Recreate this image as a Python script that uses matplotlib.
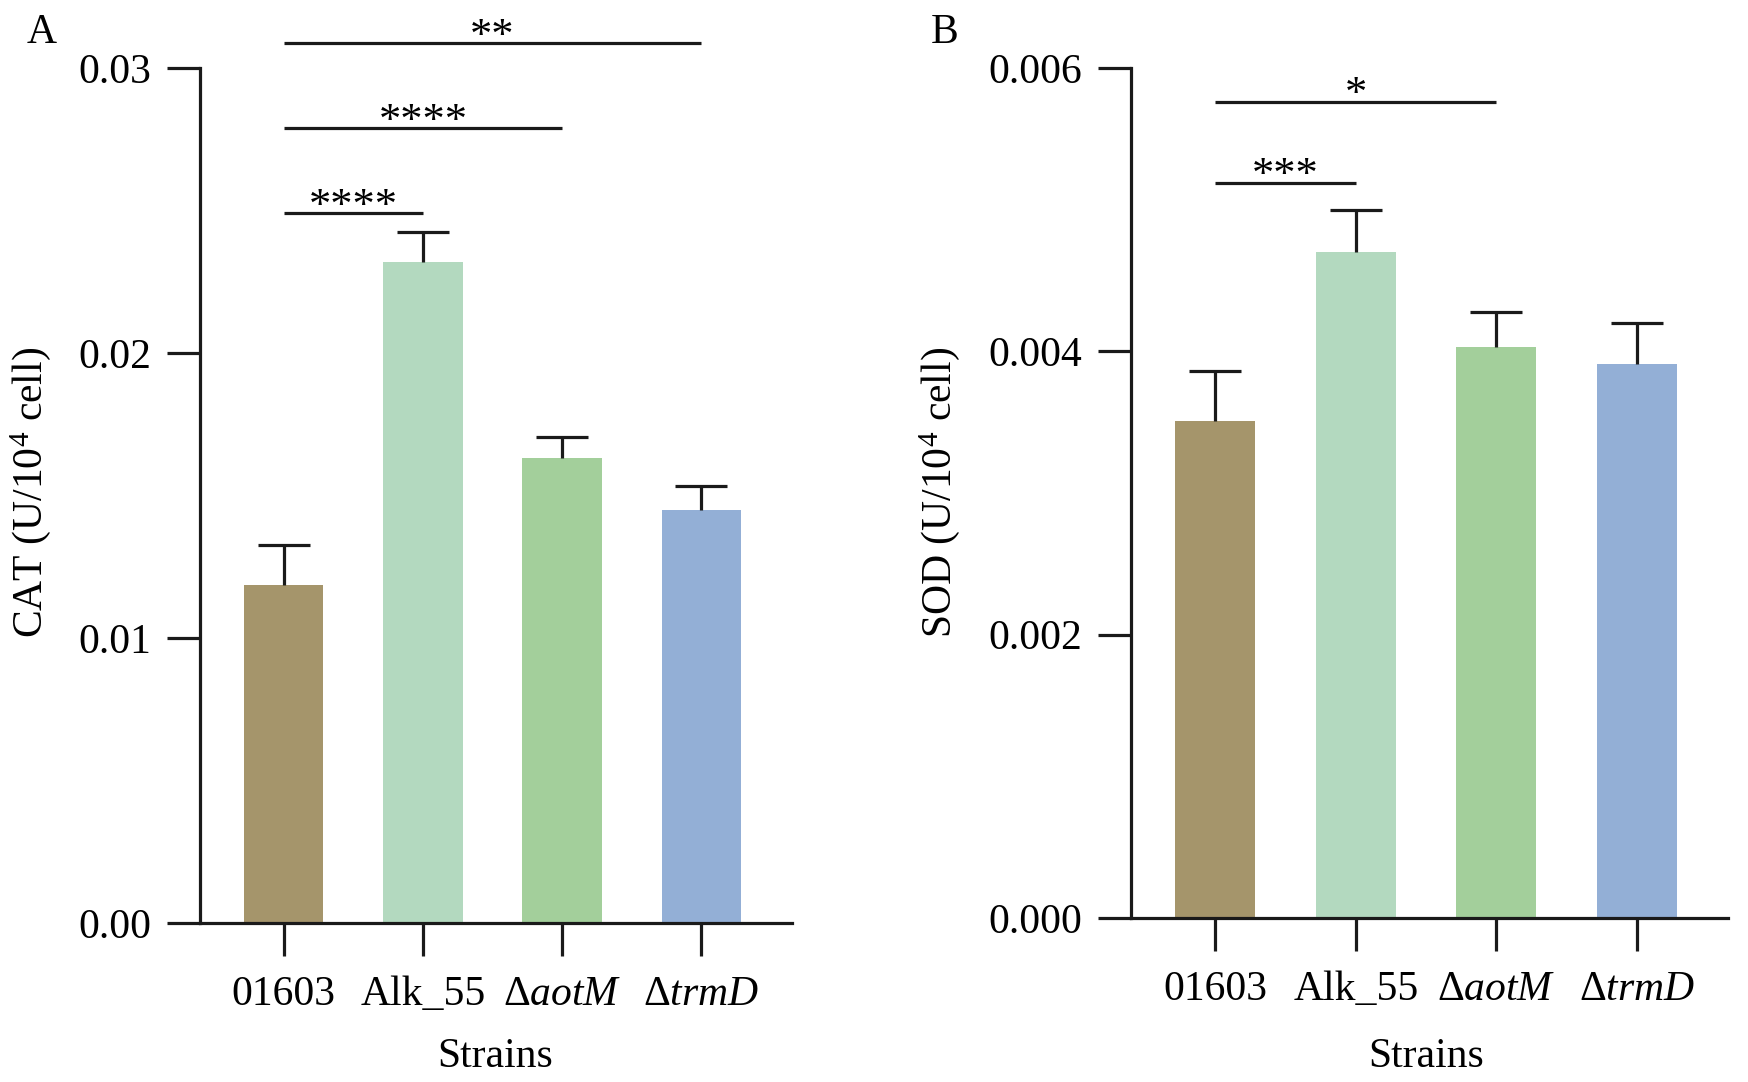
import matplotlib
matplotlib.use("Agg")
import matplotlib.pyplot as plt
import numpy as np

plt.rcParams['font.family'] = ['Liberation Serif', 'DejaVu Serif']
plt.rcParams['mathtext.fontset'] = 'custom'
plt.rcParams['mathtext.rm'] = 'Liberation Serif'
plt.rcParams['mathtext.it'] = 'Liberation Serif:italic'
plt.rcParams['mathtext.bf'] = 'Liberation Serif:bold'

# ---------------- data ----------------
strains = [r'01603', r'Alk_55', r'$\mathrm{\Delta}\mathit{aotM}$', r'$\mathrm{\Delta}\mathit{trmD}$']
bar_colors = ['#A5956B', '#B3D9BF', '#A3CF9B', '#93AFD6']

cat_values = [0.01185, 0.02318, 0.01633, 0.01450]
cat_errors = [0.00140, 0.00106, 0.00074, 0.00082]
cat_sig_pairs = [(0, 1), (0, 2), (0, 3)]
cat_sig_heights = [0.02490, 0.02788, 0.03086]
cat_sig_labels = ['****', '****', '**']
cat_ticks = [0.00, 0.01, 0.02, 0.03]
cat_ticklabels = ['0.00', '0.01', '0.02', '0.03']

sod_values = [0.003506, 0.004704, 0.004032, 0.003912]
sod_errors = [0.000352, 0.000292, 0.000244, 0.000288]
sod_sig_pairs = [(0, 1), (0, 2)]
sod_sig_heights = [0.005191, 0.005761]
sod_sig_labels = ['***', '*']
sod_ticks = [0.000, 0.002, 0.004, 0.006]
sod_ticklabels = ['0.000', '0.002', '0.004', '0.006']

# ---------------- figure ----------------
W, H = 1748, 1082
fig = plt.figure(figsize=(W / 100, H / 100), dpi=100)

FS = 30
LW = 2.3


def panel(rect, values, errors, pairs, heights, labels, ticks, ticklabels,
          ylabel, ylab_xy, xlab_xy, ymax):
    ax = fig.add_axes(rect)
    x = np.arange(len(values))
    ax.bar(x, values, width=0.57, color=bar_colors, edgecolor='none', zorder=2)
    _, caps, _ = ax.errorbar(x, values, yerr=[np.zeros(len(errors)), errors], fmt='none',
                             ecolor='#1a1a1a', elinewidth=LW, capsize=19, capthick=LW,
                             zorder=3)
    # one-sided error bars: hide the lower cap
    if len(caps) == 2:
        caps[0].set_visible(False)
    ax.set_xlim(-0.6, 3.65)
    ax.set_ylim(0, ymax)
    ax.set_yticks(ticks)
    ax.set_yticklabels(ticklabels)
    ax.set_xticks(x)
    ax.set_xticklabels(strains)
    for s in ['top', 'right']:
        ax.spines[s].set_visible(False)
    for s in ['left', 'bottom']:
        ax.spines[s].set_linewidth(LW)
        ax.spines[s].set_color('#1a1a1a')
    ax.tick_params(axis='both', direction='out', length=24, width=LW,
                   color='#1a1a1a', labelsize=FS)
    ax.tick_params(axis='y', pad=11)
    ax.tick_params(axis='x', pad=14)
    ax.set_ylabel(ylabel, fontsize=FS, va='center')
    ax.yaxis.set_label_coords(*ylab_xy)
    ax.set_xlabel('Strains', fontsize=FS, va='center')
    ax.xaxis.set_label_coords(*xlab_xy)
    for (i, j), h, lab in zip(pairs, heights, labels):
        ax.plot([x[i], x[j]], [h, h], color='#1a1a1a', lw=LW, clip_on=False,
                solid_capstyle='butt', zorder=3)
        ax.annotate(lab, xy=((x[i] + x[j]) / 2, h), xytext=(0, -3),
                    textcoords='offset points', ha='center', va='baseline',
                    fontsize=FS + 2, annotation_clip=False)
    return ax


axA = panel([200 / W, 1 - 923 / H, 592 / W, 855 / H],
            cat_values, cat_errors, cat_sig_pairs, cat_sig_heights, cat_sig_labels,
            cat_ticks, cat_ticklabels, r'CAT (U/10$^{4}$ cell)',
            (-0.2855, 0.504), (0.498, -0.157), 0.03)
axB = panel([1131 / W, 1 - 918 / H, 597 / W, 850 / H],
            sod_values, sod_errors, sod_sig_pairs, sod_sig_heights, sod_sig_labels,
            sod_ticks, sod_ticklabels, r'SOD (U/10$^{4}$ cell)',
            (-0.320, 0.501), (0.494, -0.163), 0.006)

fig.text(42 / W, 1 - 33 / H, 'A', fontsize=FS, ha='center', va='center')
fig.text(945 / W, 1 - 33 / H, 'B', fontsize=FS, ha='center', va='center')

fig.savefig('out.png', dpi=100)
